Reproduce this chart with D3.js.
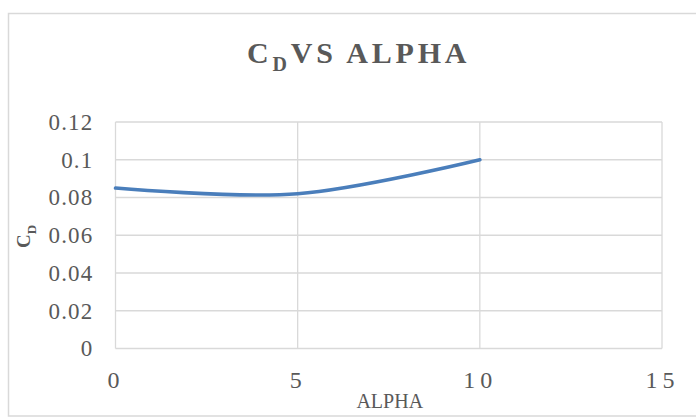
<!DOCTYPE html>
<html>
<head>
<meta charset="utf-8">
<script src="https://cdn.jsdelivr.net/npm/d3@7"></script>
<style>
  html, body { margin: 0; padding: 0; background: #fff; }
  svg { display: block; }
  text { font-family: "Liberation Serif", "DejaVu Serif", serif; fill: #595959; }
</style>
</head>
<body>
<svg id="chart" width="696" height="417"></svg>
<script>
// Drag coefficient against angle of attack
const alpha = [0, 5, 10];
const cd = [0.085, 0.082, 0.1];
const xTicks = [0, 5, 10, 15];
const yTicks = [0, 0.02, 0.04, 0.06, 0.08, 0.1, 0.12];

const plot = { left: 115.5, right: 662, top: 122, bottom: 348.5 };

const svg = d3.select("#chart");

// outer chart frame
svg.append("rect")
  .attr("x", 8.5).attr("y", 13.5)
  .attr("width", 720).attr("height", 402.5)
  .attr("fill", "#fff")
  .attr("stroke", "#d9d9d9").attr("stroke-width", 1.5);

const x = d3.scaleLinear().domain([0, 15]).range([plot.left, plot.right]);
const y = d3.scaleLinear().domain([0, 0.12]).range([plot.bottom, plot.top]);

// gridlines
const grid = svg.append("g").attr("stroke", "#d9d9d9").attr("stroke-width", 1.3);
grid.selectAll("line.h").data(yTicks).join("line")
  .attr("x1", plot.left).attr("x2", plot.right)
  .attr("y1", d => y(d)).attr("y2", d => y(d));
grid.selectAll("line.v").data(xTicks).join("line")
  .attr("y1", plot.top).attr("y2", plot.bottom)
  .attr("x1", d => x(d)).attr("x2", d => x(d));

// y axis tick labels
const yAxis = d3.axisLeft(y).tickValues(yTicks).tickSize(0).tickPadding(22)
  .tickFormat(d => d === 0 ? "0" : String(+d.toFixed(2)));
svg.append("g").attr("transform", `translate(${plot.left},0)`).call(yAxis)
  .call(g => g.select(".domain").remove())
  .call(g => g.selectAll("text")
    .attr("font-family", "Liberation Serif").attr("font-size", 23)
    .attr("letter-spacing", 1.2).attr("fill", "#595959"));

// x axis tick labels
const xAxis = d3.axisBottom(x).tickValues(xTicks).tickSize(0).tickPadding(22)
  .tickFormat(d3.format("d"));
svg.append("g").attr("transform", `translate(0,${plot.bottom})`).call(xAxis)
  .call(g => g.select(".domain").remove())
  .call(g => g.selectAll("text")
    .attr("font-family", "Liberation Serif").attr("font-size", 24)
    .attr("letter-spacing", 5).attr("fill", "#595959"));

// data line
const line = d3.line()
  .x((d, i) => x(alpha[i]))
  .y(d => y(d))
  .curve(d3.curveCardinal.tension(0));
svg.append("path")
  .datum(cd)
  .attr("d", line)
  .attr("fill", "none")
  .attr("stroke", "#4a7ebb")
  .attr("stroke-width", 3.6)
  .attr("stroke-linecap", "round")
  .attr("stroke-linejoin", "round");

// title
const title = svg.append("text")
  .attr("x", 247).attr("y", 63)
  .attr("font-size", 30).attr("font-weight", "bold")
  .attr("letter-spacing", 3.8);
title.append("tspan").text("C");
title.append("tspan").attr("font-size", 20).attr("dy", 8).text("D");
title.append("tspan").attr("dy", -8).text("VS ALPHA");

// axis titles
svg.append("text")
  .attr("x", (plot.left + plot.right) / 2 + 1).attr("y", 408)
  .attr("text-anchor", "middle")
  .attr("font-size", 20)
  .text("ALPHA");

const yTitle = svg.append("text")
  .attr("transform", "translate(30,248) rotate(-90)")
  .attr("font-size", 19).attr("font-weight", "bold");
yTitle.append("tspan").text("C");
yTitle.append("tspan").attr("font-size", 13).attr("dy", 6).text("D");
</script>
</body>
</html>
